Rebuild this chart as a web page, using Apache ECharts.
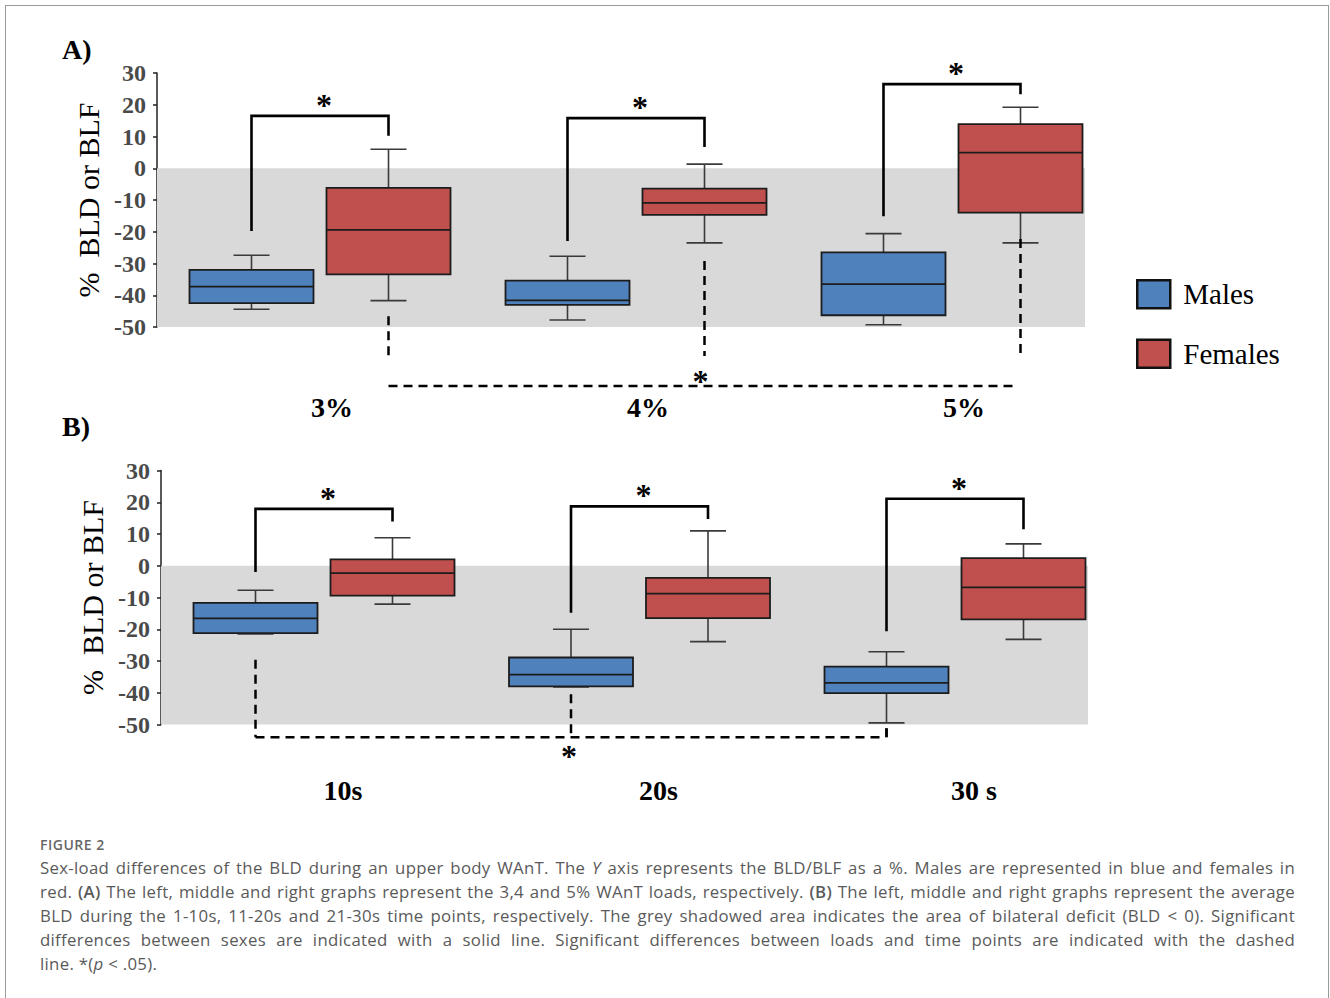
<!DOCTYPE html>
<html><head><meta charset="utf-8">
<script src="https://cdn.jsdelivr.net/npm/echarts@6.0.0/dist/echarts.min.js"></script>
<style>
html,body{margin:0;padding:0;background:#fff;width:1330px;height:998px;overflow:hidden;}
#chart{position:absolute;left:0;top:0;width:1330px;height:998px;}
#frame{position:absolute;left:5px;top:5px;width:1322px;height:1100px;border:1px solid #9a9a9a;pointer-events:none;}
#cap{position:absolute;left:40px;top:836px;width:1255px;font-family:'Open Sans','Noto Sans',sans-serif;color:#5a5a5a;}
#cap .fig{font-size:14px;font-weight:600;line-height:18px;letter-spacing:0.5px;margin-bottom:2px;color:#666;}
#cap .ln,#cap .last{font-size:16.8px;line-height:24px;white-space:nowrap;letter-spacing:0.3px;}
#cap b{font-weight:600;}
</style></head>
<body>
<div id="chart"></div>
<div id="frame"></div>
<div id="cap">
<div class="fig">FIGURE 2</div>
<div class="ln">Sex-load differences of the BLD during an upper body WAnT. The <i>Y</i> axis represents the BLD/BLF as a %. Males are represented in blue and females in</div>
<div class="ln">red. <b>(A)</b> The left, middle and right graphs represent the 3,4 and 5% WAnT loads, respectively. <b>(B)</b> The left, middle and right graphs represent the average</div>
<div class="ln">BLD during the 1-10s, 11-20s and 21-30s time points, respectively. The grey shadowed area indicates the area of bilateral deficit (BLD &lt; 0). Significant</div>
<div class="ln">differences between sexes are indicated with a solid line. Significant differences between loads and time points are indicated with the dashed</div>
<div class="last">line. *(<i>p</i> &lt; .05).</div>
</div>
<script>
// ---------- data ----------
const loadsA = ['3%', '4%', '5%'];
const timesB = ['10s', '20s', '30 s'];
const yTicks = [-50, -40, -30, -20, -10, 0, 10, 20, 30];
// five-number summaries: [min, Q1, median, Q3, max]
const malesA   = [[-44.4, -42.5, -37.3, -32.0, -27.4], [-47.8, -43.0, -41.6, -35.4, -27.7], [-49.3, -46.3, -36.5, -26.5, -20.6]];
const femalesA = [[-41.7, -33.4, -19.4, -6.2, 6.0],   [-23.5, -14.7, -10.9, -6.4, 1.3],    [-23.5, -14.0, 4.9, 13.9, 19.2]];
const malesB   = [[-21.5, -21.2, -16.6, -11.7, -7.7], [-38.2, -38.0, -34.3, -28.9, -20.0], [-49.5, -40.1, -36.9, -31.8, -27.1]];
const femalesB = [[-12.1, -9.4, -2.3, 2.0, 8.8],      [-23.9, -16.5, -8.8, -3.8, 11.0],    [-23.2, -16.9, -6.8, 2.4, 6.9]];
const deficitBand = [0, -50];
// significance annotations (values in % units)
const sexLegMaleA   = [-19.8, -22.9, -15.1];
const sexTopA       = [16.5, 15.8, 26.5];
const sexLegFemaleA = [10.2, 6.7, 23.3];
const loadLegTopA    = [-46.6, -29.2, -22.3];
const loadLegBottomA = [-60.1, -59.1, -60.1];
const loadLevelA = -68.6;
const sexLegMaleB   = [-2.0, -14.8, -20.6];
const sexTopB       = [17.9, 18.7, 21.1];
const sexLegFemaleB = [13.9, 14.7, 11.5];
const timeLegTopB = [-29.6, -40.5, -51.2];
const timeLevelB = -54.0;

// ---------- style ----------
const HALF = 68.5, BOX_W = 124, CAP_W = 36;
const SERIF = '"Liberation Serif","Times New Roman",serif';
const BLUE = '#4F81BD', RED = '#C0504D';

function boxRender(sign) {
  return function (params, api) {
    const i = api.value(0);
    const cx = api.coord([i, 0])[0] + sign * HALF;
    const py = v => api.coord([i, v])[1];
    const yMin = py(api.value(1)), yQ1 = py(api.value(2)), yMed = py(api.value(3)),
          yQ3 = py(api.value(4)), yMax = py(api.value(5));
    const w = { stroke: '#3a3a3a', lineWidth: 1.6 };
    const color = api.visual('color');
    return { type: 'group', children: [
      { type: 'line', shape: { x1: cx, y1: yMax, x2: cx, y2: yQ3 }, style: w },
      { type: 'line', shape: { x1: cx, y1: yQ1, x2: cx, y2: yMin }, style: w },
      { type: 'line', shape: { x1: cx - CAP_W / 2, y1: yMax, x2: cx + CAP_W / 2, y2: yMax }, style: w },
      { type: 'line', shape: { x1: cx - CAP_W / 2, y1: yMin, x2: cx + CAP_W / 2, y2: yMin }, style: w },
      { type: 'rect', shape: { x: cx - BOX_W / 2, y: yQ3, width: BOX_W, height: yQ1 - yQ3 },
        style: { fill: color, stroke: '#1c1c1c', lineWidth: 1.8 } },
      { type: 'line', shape: { x1: cx - BOX_W / 2, y1: yMed, x2: cx + BOX_W / 2, y2: yMed },
        style: { stroke: '#1c1c1c', lineWidth: 1.8 } }
    ] };
  };
}

const solid = { stroke: '#000', lineWidth: 2.6, fill: null };
const dashed = { stroke: '#000', lineWidth: 2.5, lineDash: [9, 6], fill: null };
function star(x, y) {
  return { type: 'text', style: { text: '*', x: x, y: y, fill: '#000', fontFamily: SERIF,
    fontWeight: 'bold', fontSize: 32, align: 'center', verticalAlign: 'middle' } };
}

function annotRender(panel) {
  return function (params, api) {
    const i = api.value(0);
    const c = api.coord([i, 0])[0];
    const xm = c - HALF, xf = c + HALF;
    const y = v => api.coord([i, v])[1];
    const ch = [];
    const legM = panel === 'A' ? sexLegMaleA : sexLegMaleB;
    const top = panel === 'A' ? sexTopA : sexTopB;
    const legF = panel === 'A' ? sexLegFemaleA : sexLegFemaleB;
    const yt = y(top[i]);
    ch.push({ type: 'polyline', shape: { points: [[xm, y(legM[i])], [xm, yt], [xf, yt], [xf, y(legF[i])]] }, style: solid });
    ch.push(star((xm + xf) / 2 + 4, yt - 11));
    if (panel === 'A') {
      ch.push({ type: 'line', shape: { x1: xf, y1: y(loadLegTopA[i]), x2: xf, y2: y(loadLegBottomA[i]) }, style: dashed });
      if (i === 1) {
        const x0 = api.coord([0, 0])[0] + HALF, x2 = api.coord([2, 0])[0] + HALF - 5;
        const yl = y(loadLevelA);
        ch.push({ type: 'line', shape: { x1: x0, y1: yl, x2: x2, y2: yl }, style: dashed });
        ch.push(star(xf - 4, yl - 5));
      }
    } else {
      ch.push({ type: 'line', shape: { x1: xm, y1: y(timeLegTopB[i]), x2: xm, y2: y(timeLevelB) }, style: dashed });
      if (i === 1) {
        const x0 = api.coord([0, 0])[0] - HALF, x2 = api.coord([2, 0])[0] - HALF;
        const yl = y(timeLevelB);
        ch.push({ type: 'line', shape: { x1: x0, y1: yl, x2: x2 - 5, y2: yl }, style: dashed });
        ch.push({ type: 'line', shape: { x1: x2, y1: y(timeLegTopB[2]), x2: x2, y2: yl }, style: { stroke: '#000', lineWidth: 2.5 } });
        ch.push(star(xm - 2, yl + 19));
      }
    }
    return { type: 'group', children: ch };
  };
}

function bandRender(params, api) {
  const cs = params.coordSys;
  const y0 = api.coord([0, deficitBand[0]])[1], y1 = api.coord([0, deficitBand[1]])[1];
  return { type: 'rect', shape: { x: cs.x, y: y0, width: cs.width, height: y1 - y0 }, style: { fill: '#D9D9D9' } };
}

function visibleY(grid) {
  return { gridIndex: grid, type: 'value', min: yTicks[0], max: yTicks[yTicks.length - 1], interval: 10,
    name: '%  BLD or BLF', nameLocation: 'middle', nameGap: 36, nameRotate: 90,
    nameTextStyle: { fontFamily: SERIF, fontSize: 30, color: '#000' },
    axisLine: { show: true, onZero: false, lineStyle: { color: '#222', width: 1.5 } },
    axisTick: { show: true, length: 4, lineStyle: { color: '#222', width: 1.5 } },
    axisLabel: { fontFamily: SERIF, fontWeight: 'bold', fontSize: 24, color: '#4a4a4a', margin: 11 },
    splitLine: { show: false } };
}
function hiddenY(grid) {
  return { gridIndex: grid, type: 'value', min: yTicks[0], max: yTicks[yTicks.length - 1], show: false, splitLine: { show: false } };
}
function catX(grid, cats, margin, shift) {
  return { gridIndex: grid, type: 'category', data: cats, boundaryGap: true,
    axisLine: { show: false, onZero: false }, axisTick: { show: false }, splitLine: { show: false },
    axisLabel: { fontFamily: SERIF, fontWeight: 'bold', fontSize: 28, color: '#000', margin: margin, padding: [0, 0, 0, shift], interval: 0 } };
}

const chart = echarts.init(document.getElementById('chart'), null, { renderer: 'svg' });
chart.setOption({
  animation: false,
  backgroundColor: '#fff',
  title: [
    { text: 'A)', left: 57, top: 30, textStyle: { fontFamily: SERIF, fontWeight: 'bold', fontSize: 28, color: '#000' } },
    { text: 'B)', left: 57, top: 407, textStyle: { fontFamily: SERIF, fontWeight: 'bold', fontSize: 28, color: '#000' } }
  ],
  legend: {
    data: [{ name: 'Males' }, { name: 'Females' }],
    orient: 'vertical', left: 1131, top: 274, itemWidth: 33, itemHeight: 28, itemGap: 29, icon: 'rect',
    itemStyle: { borderColor: '#111', borderWidth: 2.5 },
    textStyle: { fontFamily: SERIF, fontSize: 29, color: '#000', padding: [0, 0, 0, 8] }
  },
  grid: [
    { left: 157, top: 73, width: 928, height: 254, outerBoundsMode: 'none' },
    { left: 162, top: 73, width: 948, height: 254, outerBoundsMode: 'none' },
    { left: 161, top: 470.5, width: 927, height: 254, outerBoundsMode: 'none' },
    { left: 166.25, top: 470.5, width: 946.5, height: 254, outerBoundsMode: 'none' }
  ],
  xAxis: [
    { gridIndex: 0, type: 'value', min: 0, max: 1, show: false },
    catX(1, loadsA, 66, 24),
    { gridIndex: 2, type: 'value', min: 0, max: 1, show: false },
    catX(3, timesB, 52, 38)
  ],
  yAxis: [visibleY(0), hiddenY(1), visibleY(2), hiddenY(3)],
  series: [
    { type: 'custom', name: 'bandA', xAxisIndex: 0, yAxisIndex: 0, z: 1, renderItem: bandRender, data: [[0, deficitBand[1]]], silent: true },
    { type: 'custom', name: 'bandB', xAxisIndex: 2, yAxisIndex: 2, z: 1, renderItem: bandRender, data: [[0, deficitBand[1]]], silent: true },
    { type: 'custom', name: 'Males', xAxisIndex: 1, yAxisIndex: 1, z: 3, itemStyle: { color: BLUE },
      encode: { x: 0, y: [1, 2, 3, 4, 5] }, renderItem: boxRender(-1), data: malesA.map((d, i) => [i].concat(d)) },
    { type: 'custom', name: 'Females', xAxisIndex: 1, yAxisIndex: 1, z: 3, itemStyle: { color: RED },
      encode: { x: 0, y: [1, 2, 3, 4, 5] }, renderItem: boxRender(1), data: femalesA.map((d, i) => [i].concat(d)) },
    { type: 'custom', name: 'Males', xAxisIndex: 3, yAxisIndex: 3, z: 3, itemStyle: { color: BLUE },
      encode: { x: 0, y: [1, 2, 3, 4, 5] }, renderItem: boxRender(-1), data: malesB.map((d, i) => [i].concat(d)) },
    { type: 'custom', name: 'Females', xAxisIndex: 3, yAxisIndex: 3, z: 3, itemStyle: { color: RED },
      encode: { x: 0, y: [1, 2, 3, 4, 5] }, renderItem: boxRender(1), data: femalesB.map((d, i) => [i].concat(d)) },
    { type: 'custom', name: 'sigA', xAxisIndex: 1, yAxisIndex: 1, z: 4, silent: true, clip: false,
      renderItem: annotRender('A'), data: sexTopA.map((v, i) => [i, v]) },
    { type: 'custom', name: 'sigB', xAxisIndex: 3, yAxisIndex: 3, z: 4, silent: true, clip: false,
      renderItem: annotRender('B'), data: sexTopB.map((v, i) => [i, v]) }
  ]
});

// justify each caption line to the full text width with word spacing
document.querySelectorAll('#cap .ln').forEach(function (el) {
  el.style.display = 'inline-block';
  el.style.wordSpacing = '0px';
  const w = el.getBoundingClientRect().width;
  const n = (el.textContent.match(/ /g) || []).length;
  el.style.display = 'block';
  el.style.wordSpacing = ((1255 - w) / n) + 'px';
});
</script>
</body></html>
